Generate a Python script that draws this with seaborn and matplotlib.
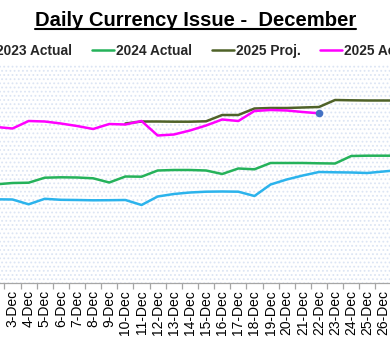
import numpy as np
import pandas as pd
import matplotlib
matplotlib.use("Agg")
import matplotlib.pyplot as plt
from matplotlib.patches import Rectangle
from matplotlib.lines import Line2D
import seaborn as sns

sns.set_theme(style="white")
plt.rcParams['font.family'] = ['Liberation Sans', 'DejaVu Sans']
plt.rcParams['hatch.linewidth'] = 0.8

# ---- data (arbitrary units) ----
days_all = list(range(1, 32))
tick_labels = [f"{d}-Dec" if 3 <= d <= 26 else "" for d in days_all]

days_2023 = list(range(2, 28))
vals_2023 = [83.7, 83.5, 78.7, 84.2, 83.2, 83.0, 82.7, 82.8, 83.0, 78.0, 86.5, 89.0, 90.5,
             91.3, 91.5, 91.3, 87.0, 98.5, 103.5, 107.5, 111.0, 110.7, 110.5, 110.0, 111.5, 113.0]

days_2024 = list(range(2, 28))
vals_2024 = [98.7, 100.0, 100.3, 105.3, 105.7, 105.5, 104.7, 100.5, 106.5, 106.3, 112.5, 113.0, 113.0,
             112.5, 109.0, 114.5, 113.7, 120.0, 120.0, 120.0, 119.7, 119.5, 127.0, 127.3, 127.3, 127.3]

days_2025p = list(range(10, 28))
vals_2025p = [159.5, 161.5, 161.5, 161.3, 161.3, 161.7, 168.0, 168.0, 174.5, 175.0, 175.0,
              175.5, 176.0, 183.0, 182.7, 182.5, 182.5, 182.5]

days_2025a = list(range(2, 23))
vals_2025a = [156.0, 154.5, 162.0, 161.5, 159.5, 157.0, 154.0, 159.0, 158.5, 162.0, 147.5,
              148.5, 152.5, 157.5, 163.5, 162.0, 172.0, 173.0, 172.5, 171.0, 169.7]

series_names = ["2023 Actual", "2024 Actual", "2025 Proj.", "2025 Actual"]
colors = ["#2BB3EC", "#25B25A", "#4F6228", "#FF00FF"]

W, H = 390, 354
fig = plt.figure(figsize=(W / 100, H / 100), dpi=100)

# axes: category centres at x = 12.5 + (d-3)*16.13 px
sp = 16.13
x_left = 12.5 - 2.5 * sp
x_right = 12.5 + 28.5 * sp
top, bottom = 65, 283
ax = fig.add_axes([x_left / W, 1 - bottom / H, (x_right - x_left) / W, (bottom - top) / H])
ax.set_xlim(0.5, 31.5)
ax.set_ylim(0, bottom - top)

# dotted pattern fill of plot area
ax.add_patch(Rectangle((0, 0), 1, 1, transform=ax.transAxes, facecolor="white",
                       edgecolor="#DCE5F4", hatch="....", linewidth=0, zorder=0))

data = [(days_2023, vals_2023), (days_2024, vals_2024), (days_2025p, vals_2025p), (days_2025a, vals_2025a)]
for (d, v), name, c in zip(data, series_names, colors):
    sns.lineplot(x=d, y=v, ax=ax, color=c, linewidth=1.8, legend=False, zorder=3,
                 solid_joinstyle="round", solid_capstyle="round")
sns.scatterplot(x=[days_2025a[-1]], y=[vals_2025a[-1]], ax=ax, color="#4472C4", s=30,
                edgecolor="#4472C4", linewidth=0, zorder=4, legend=False)

for s in ["top", "right", "left"]:
    ax.spines[s].set_visible(False)
ax.spines["bottom"].set_color("#A6A6A6")
ax.spines["bottom"].set_linewidth(0.9)
ax.set_yticks([])
ax.set_xticks(days_all)
ax.set_xticklabels(tick_labels, rotation=90, fontsize=10, color="black")
ax.set_xticks([d + 0.5 for d in range(0, 32)], minor=True)
ax.tick_params(axis="x", which="major", length=0, pad=5)
ax.tick_params(axis="x", which="minor", length=4, color="#A6A6A6", width=0.9, bottom=True)
ax.set_xlabel("")
ax.set_ylabel("")

# legend
handles = [Line2D([], [], color=c, linewidth=1.8) for c in colors]
fig.legend(handles, series_names, loc="center", bbox_to_anchor=(196 / W, 1 - 51 / H),
           ncol=4, frameon=False, prop={"weight": "bold", "size": 9.9},
           handlelength=1.6, handletextpad=0.15, columnspacing=1.45)

# title with underline
t = fig.text(195.5 / W, 1 - 20 / H, "Daily Currency Issue -  December", ha="center", va="center",
             fontsize=14.6, fontweight="bold", color="black")
fig.canvas.draw()
bb = t.get_window_extent().transformed(fig.transFigure.inverted())
fig.add_artist(Line2D([bb.x0, bb.x1], [bb.y0 + 0.001, bb.y0 + 0.001], transform=fig.transFigure,
                      color="black", linewidth=1.5))

fig.savefig("out.png", dpi=100)
